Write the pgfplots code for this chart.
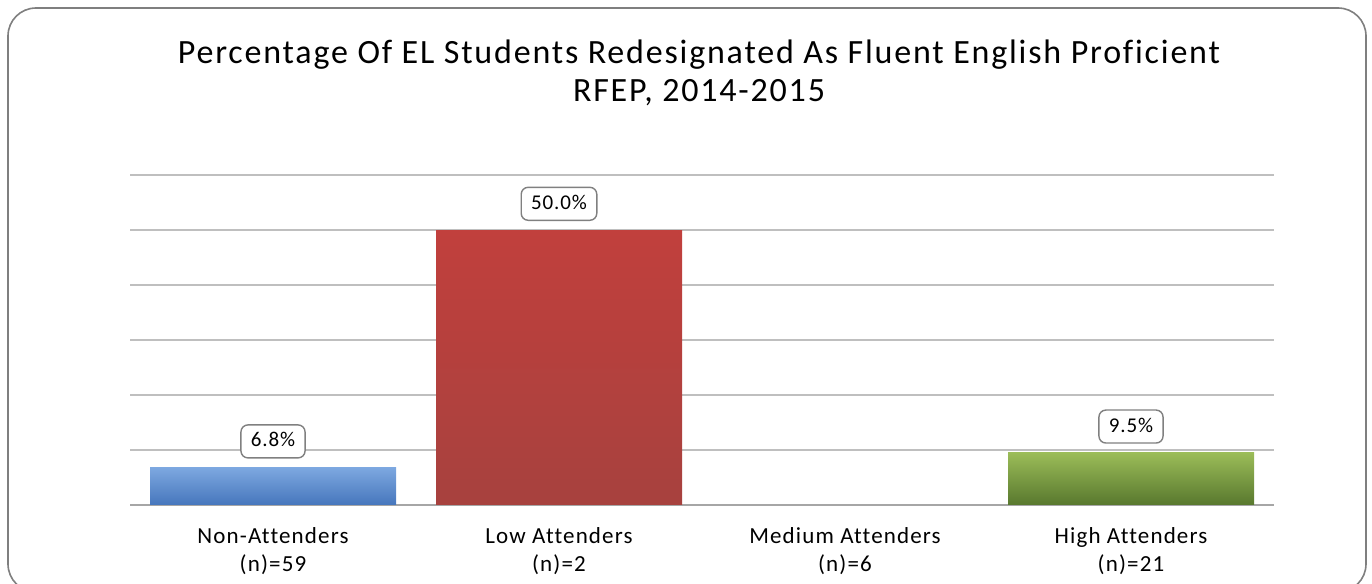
\documentclass[border=0pt]{standalone}
\usepackage{fontspec}
\setmainfont{Carlito}[Ligatures=CommonOff]
\usepackage{pgfplots}
\pgfplotsset{compat=1.18}
\definecolor{gridc}{HTML}{BFBFBF}
\definecolor{basec}{HTML}{A6A6A6}
\definecolor{frame}{HTML}{7F7F7F}
\begin{document}
\begin{tikzpicture}[x=1pt,y=1pt]
\useasboundingbox (0,0) rectangle (686,292);
\draw[frame, line width=0.8pt, rounded corners=14pt] (4,-4) rectangle (683,288);
\node[anchor=base, font=\fontsize{17}{20}\selectfont\addfontfeature{LetterSpace=5.3}] at (349.5,260) {Percentage Of EL Students Redesignated As Fluent English Proficient};
\node[anchor=base, font=\fontsize{17}{20}\selectfont\addfontfeature{LetterSpace=5.3}] at (349.5,241) {RFEP, 2014-2015};
\begin{axis}[
  at={(65pt,39.5pt)}, anchor=south west,
  scale only axis, width=572pt, height=165pt,
  xmin=-0.5, xmax=3.5, ymin=0, ymax=60,
  ytick={10,20,...,60}, yticklabels={},
  ymajorgrids, grid style={gridc, line width=0.6pt},
  major tick length=0pt,
  axis x line*=bottom, axis y line*=left,
  y axis line style={draw=none},
  x axis line style={basec, line width=1.2pt, -},
  xtick={0,1,2,3},
  xticklabels={{Non-Attenders\\(n)=59},{Low Attenders\\(n)=2},{Medium Attenders\\(n)=6},{High Attenders\\(n)=21}},
  xticklabel style={align=center, font=\fontsize{11.5}{14}\selectfont\addfontfeature{LetterSpace=5}, yshift=-7.5pt},
  point meta=explicit symbolic,
  nodes near coords,
  every node near coord/.append style={draw={rgb,255:red,128;green,128;blue,128}, line width=0.7pt, fill=white, rounded corners=3.5pt, font=\fontsize{10.5}{12}\selectfont\addfontfeature{LetterSpace=4}, inner xsep=5pt, inner ysep=3.5pt, text height=7.5pt, text depth=2pt, anchor=south, yshift=4.5pt},
  clip=false,
]
\addplot[ybar, bar width=123pt, bar shift=0pt, draw=none, top color={rgb,255:red,125;green,168;blue,224}, bottom color={rgb,255:red,70;green,118;blue,188}] coordinates {(0,6.8) [6.8\%]};
\addplot[ybar, bar width=123pt, bar shift=0pt, draw=none, top color={rgb,255:red,193;green,64;blue,61}, bottom color={rgb,255:red,167;green,65;blue,62}] coordinates {(1,50) [50.0\%]};
\addplot[ybar, bar width=123pt, bar shift=0pt, draw=none, top color={rgb,255:red,155;green,188;blue,88}, bottom color={rgb,255:red,88;green,120;blue,46}] coordinates {(3,9.5) [9.5\%]};
\end{axis}
\end{tikzpicture}
\end{document}
